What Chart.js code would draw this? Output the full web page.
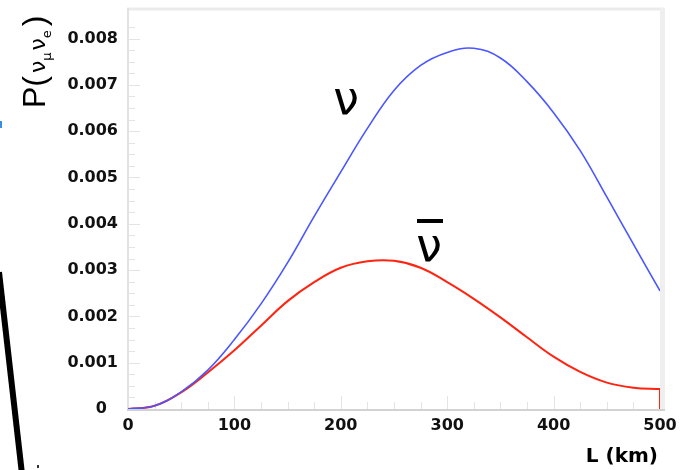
<!DOCTYPE html>
<html>
<head>
<meta charset="utf-8">
<script src="https://cdn.jsdelivr.net/npm/chart.js@4"></script>
<style>
  body { margin: 0; background: #fff; }
  #box { width: 684px; height: 470px; }
</style>
</head>
<body>
<div id="box"><canvas id="myChart" width="684" height="470"></canvas></div>
<script>
// distance (km)
var distance = [0, 25, 50, 75, 100, 125, 150, 175, 200, 225, 250, 275, 300, 325, 350, 375, 400, 425, 450, 475, 500];
// P(numu -> nue), neutrino
var probNu = [0, 0.00007, 0.00037, 0.00084, 0.0015, 0.00227, 0.00316, 0.00416, 0.00512, 0.00606, 0.00688, 0.00742, 0.0077, 0.00779, 0.00758, 0.00707, 0.0064, 0.00558, 0.00458, 0.00356, 0.00255];
// antineutrino
var probNuBar = [0, 0.00007, 0.00036, 0.00079, 0.00127, 0.0018, 0.00233, 0.00274, 0.00305, 0.00319, 0.0032, 0.00305, 0.00274, 0.00238, 0.00198, 0.00155, 0.00113, 0.0008, 0.00057, 0.00046, 0.00043];
// antineutrino histogram edge at L=500
var edgeL = [500, 500];
var edgeP = [0.00043, 0];

var xTicks = [0, 100, 200, 300, 400, 500];
var yTicks = [0, 0.001, 0.002, 0.003, 0.004, 0.005, 0.006, 0.007, 0.008];

function toPoints(xs, ys) {
  var out = [];
  for (var i = 0; i < xs.length; i++) out.push({ x: xs[i], y: ys[i] });
  return out;
}

var tickFont = { family: "DejaVu Sans", size: 16, weight: "bold" };

// frame + inner tick marks (ROOT style)
var framePlugin = {
  id: "frame",
  beforeDatasetsDraw: function (chart) {
    var c = chart.ctx, a = chart.chartArea;
    var xs = chart.scales.x, ys = chart.scales.y;
    c.save();
    c.strokeStyle = "#e4e4e4";
    c.lineWidth = 1;
    for (var v = 0; v <= 0.0085; v += 0.00025) {
      var py = Math.round(ys.getPixelForValue(v)) + 0.5;
      var major = Math.abs(v * 1000 - Math.round(v * 1000)) < 1e-6;
      c.beginPath();
      c.moveTo(a.left, py);
      c.lineTo(a.left + (major ? 12 : 7), py);
      c.stroke();
    }
    for (var k = 0; k <= 500; k += 25) {
      var px = Math.round(xs.getPixelForValue(k)) + 0.5;
      c.beginPath();
      c.moveTo(px, a.bottom);
      c.lineTo(px, a.bottom - (k % 100 === 0 ? 13 : 7));
      c.stroke();
    }
    c.strokeStyle = "#ebebeb";
    c.lineWidth = 3;
    c.beginPath(); c.moveTo(a.left - 1, a.top + 1); c.lineTo(a.right + 4, a.top + 1); c.stroke();
    c.lineWidth = 5;
    c.strokeStyle = "#efefef";
    c.beginPath(); c.moveTo(a.right + 2.5, a.top); c.lineTo(a.right + 2.5, a.bottom + 2); c.stroke();
    c.lineWidth = 2;
    c.strokeStyle = "#e2e2e2";
    c.beginPath(); c.moveTo(a.left, a.top); c.lineTo(a.left, a.bottom); c.stroke();
    c.strokeStyle = "#d2d2d2";
    c.beginPath(); c.moveTo(a.left - 1, a.bottom + 1); c.lineTo(a.right + 5, a.bottom + 1); c.stroke();
    c.restore();
  },
  afterDraw: function (chart) {
    var c = chart.ctx;
    c.save();
    c.fillStyle = "#000";
    c.textBaseline = "alphabetic";
    c.textAlign = "center";
    // curve labels
    c.font = "46px 'DejaVu Sans'";
    c.fillText("\u03BD", 346, 114);
    c.fillText("\u03BD", 429, 261);
    c.fillRect(417, 219, 26, 4);
    // x title
    c.font = "bold 20px 'DejaVu Sans'";
    c.textAlign = "right";
    c.fillText("L (km)", 658, 462);
    // y title, rotated
    c.translate(45, 108);
    c.rotate(-Math.PI / 2);
    c.textAlign = "left";
    var x = 0;
    function seg(t, f, dy) {
      c.font = f;
      c.fillText(t, x, dy);
      x += c.measureText(t).width;
    }
    seg("P(", "32px 'Liberation Sans'", 0);
    x += 3;
    seg("\u03BD", "22px 'DejaVu Sans'", 0);
    seg("\u03BC", "13px 'DejaVu Sans'", 6);
    x += 2;
    seg("\u03BD", "22px 'DejaVu Sans'", 0);
    seg("e", "13px 'DejaVu Sans'", 6);
    x += 4;
    seg(")", "32px 'Liberation Sans'", 0);
    c.restore();
    // stray marks at the left edge of the scan
    c.save();
    c.strokeStyle = "#000";
    c.lineWidth = 6;
    c.beginPath(); c.moveTo(-1, 272); c.lineTo(22, 474); c.stroke();
    c.fillStyle = "#3a8ee0";
    c.fillRect(0, 121, 2, 7);
    c.fillStyle = "#333";
    c.fillRect(37, 465, 2, 3);
    c.restore();
  }
};

var ctx = document.getElementById("myChart");
var myChart = new Chart(ctx, {
  type: "line",
  data: {
    datasets: [
      {
        label: "nu",
        data: toPoints(distance, probNu),
        borderColor: "#4a56ff",
        borderWidth: 1.6,
        pointRadius: 0,
        tension: 0.4,
        fill: false
      },
      {
        label: "nubar",
        data: toPoints(distance, probNuBar),
        borderColor: "#ff2412",
        borderWidth: 2,
        pointRadius: 0,
        tension: 0.4,
        fill: false
      },
      {
        label: "nubar edge",
        data: toPoints(edgeL, edgeP),
        borderColor: "#ff2412",
        borderWidth: 2,
        pointRadius: 0,
        tension: 0,
        fill: false
      }
    ]
  },
  options: {
    responsive: false,
    animation: false,
    layout: { padding: { top: 8, right: 24, left: 0, bottom: 0 } },
    plugins: { legend: { display: false }, tooltip: { enabled: false }, title: { display: false } },
    scales: {
      x: {
        type: "linear",
        min: 0,
        max: 500,
        grid: { display: false, drawTicks: false },
        border: { display: false },
        afterBuildTicks: function (s) {
          s.ticks = xTicks.map(function (v) { return { value: v }; });
        },
        ticks: { font: tickFont, color: "#111", padding: 7, maxRotation: 0 },
        afterFit: function (s) { s.height = 61; s.paddingLeft = 0; s.paddingRight = 0; }
      },
      y: {
        min: 0,
        max: 0.00866,
        grid: { display: false, drawTicks: false },
        border: { display: false },
        afterBuildTicks: function (s) {
          s.ticks = yTicks.map(function (v) { return { value: v }; });
        },
        ticks: {
          font: tickFont,
          color: "#111",
          padding: 10,
          callback: function (v) { return v === 0 ? "0  " : v.toFixed(3); }
        },
        afterFit: function (s) { s.width = 128; s.paddingTop = 0; s.paddingBottom = 0; }
      }
    }
  },
  plugins: [framePlugin]
});
</script>
</body>
</html>
